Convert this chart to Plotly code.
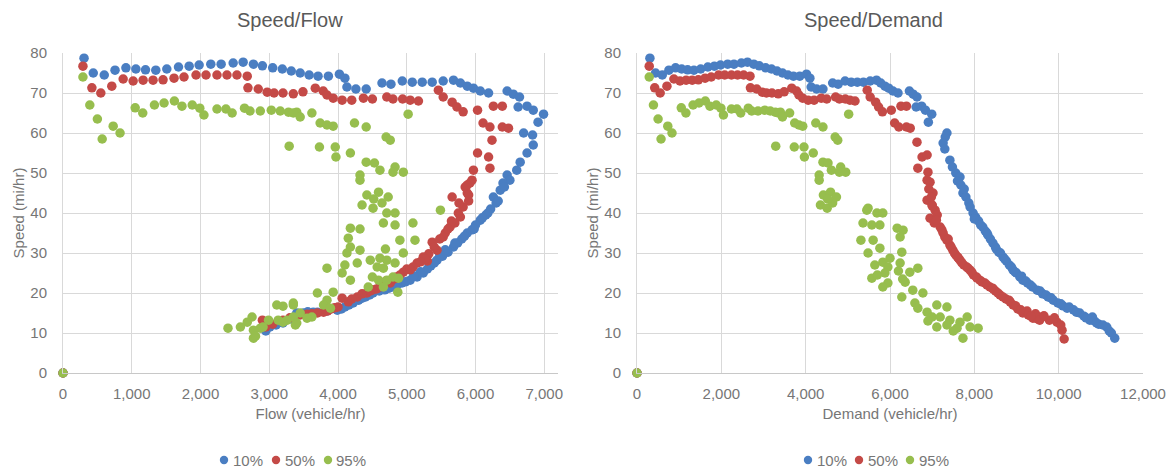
import plotly.graph_objects as go

# ---- 10% series ----
# uncongested branch: flow equals demand, shared by both panels
free_10_vol = [0, 306, 440, 600, 757, 915, 1060, 1200, 1350, 1510, 1680, 1835, 1980, 2150, 2300, 2475,
               2620, 2770, 2900, 3050, 3190, 3320, 3450, 3580, 3710, 3860, 4020, 4100, 4130, 4260, 4410,
               4640, 4770, 4935, 5080, 5225, 5370, 5530, 5680, 5780, 5880, 5970, 6070, 6190, 6460, 6550,
               6640, 6620, 6750, 6840, 6990, 6910]
free_10_speed = [0, 78.7, 75, 74.5, 75.7, 76.3, 76, 75.8, 75.7, 76, 76.5, 76.7, 77, 77.2, 77.2, 77.5,
                 77.7, 77.2, 76.8, 76.3, 76, 75.5, 75, 74.5, 74.2, 74.2, 74.7, 73.7, 71.5, 71, 71,
                 72.5, 72.2, 73, 72.7, 72.7, 72.7, 73, 73.2, 72.5, 71.7, 71.2, 70.5, 70, 70.5, 69.7,
                 69, 66.5, 66.7, 65.7, 64.7, 62.7]
# congested branch vs flow
cong_10_flow = [6700, 6830, 6840, 6750, 6650, 6600, 6460, 6500, 6400, 6360, 6260, 6300, 6220, 6150, 6070,
                6000, 5950, 5880, 5800, 5740, 5680, 5600, 5520, 5440, 5350, 5240, 5150, 5050, 4930, 4800,
                4680, 4510, 4400, 4300, 4220, 4100, 3990, 3840, 3640, 3500, 3400, 3300, 3200, 3100, 3010, 2950,
                6420, 6330, 6180, 6100, 5980, 5840, 5700, 5560, 5480, 5400, 5300, 5200, 5100, 4980, 4860,
                4740, 4600, 4460, 4350, 4160, 4050, 3700, 3560]
cong_10_flow_speed = [60, 59.5, 57, 55, 52.7, 50.7, 49.5, 48.2, 47.5, 45.7, 44, 42.5, 41, 39.5, 38.2,
                      37, 35.8, 35, 33.5, 32.5, 31.5, 30.2, 29.2, 28.2, 26.8, 25, 24, 23.2, 22.5, 21.5,
                      20.8, 20, 19, 18.2, 17.5, 16.5, 15.7, 15.5, 15.2, 15, 15, 13.5, 12.5, 12, 11.5, 10.5,
                      46.5, 43, 40, 38.8, 36, 34.2, 32.5, 30.8, 29.5, 27.5, 26, 25.3, 24.3, 22.8, 22,
                      21.2, 20.5, 19.5, 18.7, 17, 16, 15.2, 15.3]
# congested branch vs demand
cong_10_demand = [7350, 7310, 7260, 7300, 7420, 7480, 7560, 7660, 7600, 7730, 7800, 7870, 7970, 8030, 8100,
                  8200, 8260, 8320, 8440, 8500, 8580, 8680, 8760, 8830, 8920, 9000, 9080, 9150, 9260, 9380,
                  9490, 9620, 9750, 9870, 9980, 10100, 10200, 10350, 10500, 10600, 10740, 10850, 10950,
                  11140, 11200, 11330,
                  7680, 7760, 7900, 8000, 8150, 8300, 8380, 8520, 8620, 8720, 8880, 8970, 9120, 9220, 9330,
                  9560, 9700, 9820, 10050, 10250, 10420, 10650, 10800, 10900, 11050, 11250]
cong_10_demand_speed = [60, 59, 57.5, 56, 53.2, 51.5, 50, 49, 48, 45, 44, 42.5, 40, 39, 38,
                        36.5, 35.5, 34.5, 32.5, 31.5, 30.2, 29, 28, 27, 25.7, 25, 24, 23.2, 22.5, 21.5,
                        20.7, 19.8, 19, 18.2, 17.5, 16.8, 16.2, 15.8, 15, 14.2, 13.2, 13, 12.2,
                        11.5, 10.5, 8.7,
                        47, 46, 41.5, 38.5, 37, 35, 33.5, 31, 30, 28.5, 26.5, 25.2, 24.2, 23, 22,
                        20.5, 19.5, 18.8, 17.3, 16.5, 15.2, 13.8, 14, 12.5, 12, 10]

# ---- 50% series ----
free_50_vol = [0, 290, 420, 550, 710, 875, 1020, 1165, 1310, 1455, 1615, 1760, 1935, 2080, 2240, 2385,
               2530, 2680, 2690, 2840, 2970, 3070, 3200, 3350, 3490, 3670, 3785, 3840, 3930, 4060, 4200,
               4370, 4500, 4710, 4800, 4940, 5050, 5170, 5460, 5530, 5660, 5730, 5820, 6030, 6260, 6390,
               6110, 6210, 6390, 6480]
free_50_speed = [0, 76.7, 71.3, 70, 71.7, 73.5, 73, 73.2, 73.2, 73.3, 73.7, 74, 74.5, 74.5, 74.5, 74.5,
                 74.5, 74.2, 71.3, 71, 70.2, 70, 70, 69.8, 70.3, 71.2, 70.5, 69.5, 68.7, 68.2, 68.2,
                 68.7, 68.5, 69, 68.5, 68.5, 68.2, 68, 70.7, 69, 67.7, 66.5, 65.3, 65.7, 66.7, 66.7,
                 62.5, 61.5, 61.5, 61.2]
cong_50_flow = [6240, 6030, 6190, 6210, 5970, 5950, 5920, 5850, 5880, 5660, 5820, 5780, 5700, 5630, 5530,
                5370, 5440, 5320, 5240, 5150, 5090, 4950, 4850, 4760, 4610, 4500, 4420, 4280, 4060, 4000,
                3900, 3790, 3620, 3450, 3300, 3200, 2900, 3050, 2950,
                5560, 5480, 5300, 5000, 4900, 4700, 4560, 4350, 4150, 3700, 5750, 5900,
                5880, 5900, 5760, 5650, 5600, 5400, 5270, 5200, 5050, 4820, 4660, 4470, 4200, 3950, 3850, 3550]
cong_50_flow_speed = [58.2, 55, 54, 51.2, 50.7, 48.2, 47.5, 46.5, 45, 44, 41.5, 39, 37.5, 36.5, 34,
                      32.7, 30.7, 29.8, 29, 27.5, 26.5, 25.2, 24, 22.5, 21.5, 20.8, 20, 19, 18.7, 16.5,
                      16, 15.2, 14.8, 14.5, 13.8, 13.2, 13.2, 12.2, 11.5,
                      35, 33.5, 28, 26, 24.5, 23, 21, 19.8, 17.8, 15, 40, 43,
                      47, 44.5, 42.5, 38, 36, 31.5, 28.5, 27.8, 25.8, 23.5, 22, 20.5, 18.5, 16.3, 15.5, 14.7]
cong_50_demand = [6640, 6760, 6880, 6660, 6900, 6880, 6950, 7020, 6880, 7070, 6950, 7050, 7190, 7260, 7350,
                  7420, 7490, 7560, 7660, 7750, 7900, 7980, 8130, 8250, 8370, 8500, 8610, 8750, 8920, 9030,
                  9150, 9280, 9390, 9500, 9600, 9780, 9960, 10080, 10130,
                  7000, 7120, 7300, 7600, 7820, 8050, 8450, 8850, 9250, 9450, 9900, 10050,
                  6920, 6980, 7000, 7100, 7230, 7380, 7450, 7530, 7620, 7700, 7850, 7940, 8060, 8180, 8300,
                  8430, 8560, 8680, 8820, 8980, 9100, 9340, 9550, 9650]
cong_50_demand_speed = [57.7, 54, 54.5, 51.2, 50.2, 48.2, 47.7, 45, 43.2, 40.7, 38.7, 37.5, 36.5, 35, 33.2,
                        32, 30.7, 29.5, 28.2, 27, 25.7, 24.5, 23.2, 22.5, 21.5, 20.5, 19.5, 18.5, 17, 16,
                        15, 14.5, 13.7, 13.5, 14, 13.2, 12.7, 10.7, 8.5,
                        42, 39.5, 34, 29, 26.5, 24, 21, 17.8, 15.5, 14.8, 13.8, 12,
                        46, 44, 41.8, 38.2, 35.8, 33.5, 31.5, 30, 28.8, 27.6, 26.2, 25.2, 23.8, 22.8, 22,
                        21.2, 20, 19, 18.2, 16.8, 15.8, 14.2, 13.2, 14.3]

# ---- 95% series ----
free_95_vol = [0, 290, 390, 500, 570, 730, 830, 1050, 1160, 1330, 1470, 1620, 1730, 1880, 1990, 2050,
               2240, 2370, 2460, 2640, 2720, 2870, 3030, 3160, 3280, 3400, 3290, 3350, 3450, 3620, 3740,
               3840, 3930, 3730, 3960, 3970, 4180, 4240, 4410, 4320, 4410, 4530, 4610, 4700, 4760, 4830,
               4800, 4950, 5020, 4420, 4590, 4730, 4320, 4350, 4510, 4640, 4520]
free_95_speed = [0, 74, 67, 63.5, 58.5, 61.7, 60, 66.3, 65, 67, 67.5, 68, 66.7, 67, 66.2, 64.5,
                 66, 66, 65, 66.2, 65.5, 65.5, 65.7, 65.5, 65.2, 65.2, 56.7, 65, 64, 65, 62.5,
                 62, 61.7, 56.5, 56.5, 54, 55, 62.5, 61.5, 49.5, 52.7, 52.5, 50.7, 59, 58.2, 51.5,
                 50.2, 50.2, 64.7, 44.5, 45.2, 44, 48.2, 42, 41.2, 42.5, 43.5]
cong_95_flow = [4710, 4830, 5490, 4660, 4830, 5090, 4180, 4320, 4150, 4900, 5120, 4180, 4690, 4320, 4130,
                4950, 4280, 4470, 4610, 4710, 4100, 4830, 4570, 4660, 3840, 4060, 4500, 4800, 4880, 4180,
                4590, 4710, 4660, 4440, 3930, 4870, 3700, 3840, 3790, 3890, 3350, 3200, 3110, 3350, 3450,
                3620, 3550, 3350, 3260, 2990, 3130, 3200, 3400, 3380, 2750, 2680, 2580, 2400, 2870, 2910,
                2770, 2770, 2800]
cong_95_flow_speed = [40, 40, 40.7, 37.5, 37, 37.5, 36.2, 36, 33.7, 33.2, 33.2, 31.5, 31, 30.7, 30,
                      30, 27.5, 28.2, 28.7, 28.2, 27, 27.5, 26.5, 26.2, 26.2, 25, 24, 24, 23.7, 23.2,
                      23.2, 23.2, 21.5, 21.5, 20.2, 20.2, 20, 18.2, 17, 16.2, 17, 16.7, 17, 17.5, 15,
                      14, 13.7, 14, 13.2, 13.2, 13.2, 12.7, 12.5, 12, 14, 12.7, 11.5, 11.2, 11.2, 11.5,
                      10.7, 8.7, 9.2]
cong_95_demand = [5450, 5480, 5690, 5830, 5360, 5570, 5760, 6170, 6310, 5310, 5600, 6240, 5760, 5480, 6280,
                  6000, 5830, 5640, 6240, 5950, 6470, 6660, 5880, 5570, 5950, 5830, 6360, 6280, 6540, 6780,
                  6590, 6660, 6880, 7110, 7350, 7000, 7190, 7420, 7660, 7110, 7350, 7590, 7830, 7900, 8090,
                  7730, 6300, 6200, 5700, 6900, 7500]
cong_95_demand_speed = [40.7, 41.2, 40, 40, 37.5, 37, 37, 36.2, 35.7, 33.2, 33.2, 34, 31.2, 30, 30.2,
                        28.7, 27.7, 27, 27.5, 26.5, 25.2, 26.2, 25, 23.7, 22.5, 21.5, 22.7, 19, 20.7, 20,
                        17.5, 16.2, 15.2, 17, 16.5, 14, 14, 13.2, 12.7, 11.5, 12, 11.2, 14, 11.5, 11.2,
                        8.7, 23.5, 25.5, 24.5, 13, 10.5]

series_names = ["10%", "50%", "95%"]
series_colors = ["#4A7EC2", "#C44A47", "#97BE4E"]

FONT = "Liberation Sans"
GRID = "#D9D9D9"
TICK_COLOR = "#767676"
TITLE_COLOR = "#595959"

series = [
    (free_10_vol, free_10_speed, cong_10_flow, cong_10_flow_speed, cong_10_demand, cong_10_demand_speed),
    (free_50_vol, free_50_speed, cong_50_flow, cong_50_flow_speed, cong_50_demand, cong_50_demand_speed),
    (free_95_vol, free_95_speed, cong_95_flow, cong_95_flow_speed, cong_95_demand, cong_95_demand_speed),
]

fig = go.Figure()
for name, color, (fv, fs, cf, cfs, cd, cds) in zip(series_names, series_colors, series):
    marker = dict(color=color, size=9.5, line=dict(width=0))
    fig.add_trace(go.Scatter(x=fv + cf, y=fs + cfs, mode="markers", name=name, marker=marker,
                             xaxis="x", yaxis="y", showlegend=False, cliponaxis=False,
                             hovertemplate="Flow %{x:,}<br>Speed %{y}<extra>" + name + "</extra>"))
    fig.add_trace(go.Scatter(x=fv + cd, y=fs + cds, mode="markers", name=name, marker=marker,
                             xaxis="x2", yaxis="y2", showlegend=False, cliponaxis=False,
                             hovertemplate="Demand %{x:,}<br>Speed %{y}<extra>" + name + "</extra>"))

W, H = 1173, 469
y_dom = [1 - 373 / H, 1 - 53 / H]

axis_common = dict(showgrid=True, gridcolor=GRID, gridwidth=1, ticks="", zeroline=False,
                   tickfont=dict(family=FONT, size=15, color=TICK_COLOR), automargin=False)

x_common = dict(axis_common, showline=True, linecolor="#C8C8C8", linewidth=1, tickformat=",d",
                ticklabelstandoff=7, tick0=0)
y_common = dict(axis_common, range=[0, 80], dtick=10, showline=True, linecolor=GRID, linewidth=1,
                ticklabelstandoff=12)
axis_title_font = dict(family=FONT, size=15, color=TICK_COLOR)

# compact legends under each panel: a dot shape plus a text label per series
legend_rows = [
    ([224, 276, 328], [231, 283, 334]),   # under Speed/Flow
    ([808, 859, 910], [815, 866, 917]),   # under Speed/Demand
]
legend_y = 460
dot_r = 4.2
shapes, legend_labels = [], []
for dot_xs, text_xs in legend_rows:
    for name, color, dx, tx in zip(series_names, series_colors, dot_xs, text_xs):
        shapes.append(dict(type="circle", xref="paper", yref="paper",
                           x0=(dx - dot_r) / W, x1=(dx + dot_r) / W,
                           y0=1 - (legend_y + dot_r) / H, y1=1 - (legend_y - dot_r) / H,
                           fillcolor=color, line=dict(width=0)))
        legend_labels.append(dict(text=name, x=tx / W, y=1 - legend_y / H, xref="paper", yref="paper",
                                  showarrow=False, xanchor="left", yanchor="middle",
                                  font=dict(family=FONT, size=15, color=TICK_COLOR)))

titles = [
    dict(text="Speed/Flow", x=290 / W, y=1 - 20 / H, xref="paper", yref="paper",
         showarrow=False, xanchor="center", yanchor="middle",
         font=dict(family=FONT, size=20, color=TITLE_COLOR)),
    dict(text="Speed/Demand", x=873 / W, y=1 - 20 / H, xref="paper", yref="paper",
         showarrow=False, xanchor="center", yanchor="middle",
         font=dict(family=FONT, size=20, color=TITLE_COLOR)),
]

fig.update_layout(
    width=W, height=H,
    margin=dict(l=0, r=0, t=0, b=0),
    paper_bgcolor="white", plot_bgcolor="white",
    font=dict(family=FONT, color=TITLE_COLOR),
    showlegend=False,
    xaxis=dict(x_common, domain=[63 / W, 558 / W], range=[0, 7200], dtick=1000, anchor="y",
               title=dict(text="Flow (vehicle/hr)", standoff=7, font=axis_title_font)),
    yaxis=dict(y_common, domain=y_dom, anchor="x",
               title=dict(text="Speed (mi/hr)", standoff=2, font=axis_title_font)),
    xaxis2=dict(x_common, domain=[637 / W, 1143 / W], range=[0, 12000], dtick=2000, anchor="y2",
                title=dict(text="Demand (vehicle/hr)", standoff=7, font=axis_title_font)),
    yaxis2=dict(y_common, domain=y_dom, anchor="x2",
                title=dict(text="Speed (mi/hr)", standoff=2, font=axis_title_font)),
    shapes=shapes,
    annotations=titles + legend_labels,
)

fig.write_html("out.html")
